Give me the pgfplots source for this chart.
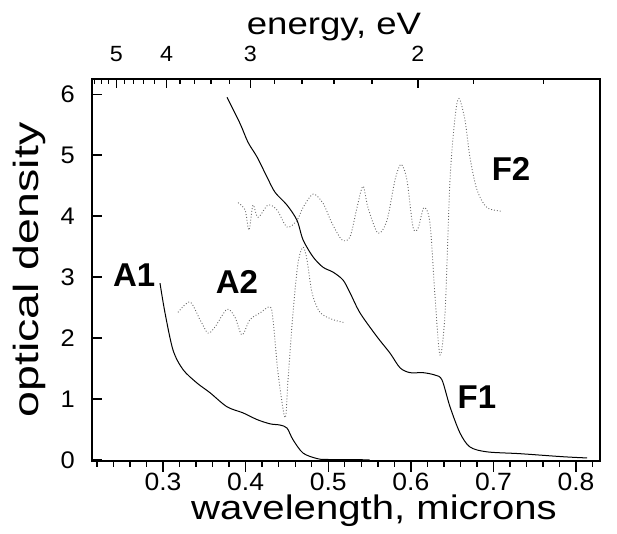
\documentclass[border=0pt]{standalone}
\usepackage{pgfplots}
\pgfplotsset{compat=1.18}
\usepackage{fontspec}
\setmainfont{Liberation Sans}
\newfontfamily\labfont[FakeStretch=1.18]{Liberation Sans}
\newfontfamily\ylabfont[FakeStretch=1.33]{Liberation Sans}
\newfontfamily\tickfont[FakeStretch=1.06]{Liberation Sans}
\usetikzlibrary{calc}

\pgfplotsset{base/.style={scale only axis, width=508pt, height=382pt,
  xmin=0.214, xmax=0.829, ymin=-0.02, ymax=6.25,
  /pgf/number format/assume math mode=true,
  every tick/.style={black, line width=1.4pt}}}

\begin{document}
\begin{tikzpicture}
% bottom ticks (outside)
\begin{axis}[base, name=ax, axis x line*=bottom, axis y line=none,
  x axis line style={draw=none},
  tick align=outside, major tick length=11pt, minor tick length=6pt,
  xtick={0.3,0.4,0.5,0.6,0.7,0.8}, xticklabels={0.3,0.4,0.5,0.6,0.7,0.8},
  minor xtick={0.22,0.24,0.26,0.28,0.32,0.34,0.36,0.38,0.42,0.44,0.46,0.48,0.52,0.54,0.56,0.58,0.62,0.64,0.66,0.68,0.72,0.74,0.76,0.78,0.82},
  xticklabel style={font=\tickfont\fontsize{25}{25}\selectfont, anchor=north, inner sep=0pt, yshift=-1pt}]
\end{axis}
% top energy ticks (inside)
\begin{axis}[base, axis x line*=top, axis y line=none,
  x axis line style={draw=none},
  tick align=inside, major tick length=9pt, minor tick length=5pt,
  xtick={0.2434,0.30425,0.40567,0.6085}, xticklabels={5,4,3,2},
  minor xtick={0.2173,0.2254,0.2340,0.2535,0.2646,0.2766,0.2898,0.3203,0.3381,0.3579,0.3803,0.4346,0.4681,0.5071,0.5532,0.6761,0.7606},
  xticklabel style={font=\tickfont\fontsize{22}{22}\selectfont, anchor=south, inner sep=0pt, yshift=17pt}]
\end{axis}
% main axis: box, y ticks inside, data
\begin{axis}[base, axis line style={line width=1.5pt},
  xtick=\empty, ytick={0,1,2,3,4,5,6}, ytick pos=left,
  tick align=inside, major tick length=10pt,
  yticklabel style={font=\tickfont\fontsize{24}{24}\selectfont, anchor=east, inner sep=0pt, xshift=-17pt}]
% A1 solid
\addplot[black, line width=1pt, smooth] coordinates {
(0.2963,2.90) (0.3024,2.41) (0.3121,1.80) (0.3242,1.48) (0.3411,1.26) (0.3569,1.10)
(0.3774,0.87) (0.3968,0.77) (0.4138,0.66) (0.4295,0.59) (0.4416,0.57) (0.4501,0.52)
(0.4573,0.33) (0.4695,0.11) (0.4864,0.02) (0.4985,0.005) (0.55,0.0)};
% F1 solid
\addplot[black, line width=1pt, smooth] coordinates {
(0.3774,5.95) (0.3932,5.52) (0.4029,5.21) (0.4138,4.97) (0.4259,4.64) (0.4356,4.39)
(0.4501,4.18) (0.4622,3.93) (0.4695,3.61) (0.4816,3.33) (0.4937,3.16) (0.5058,3.08)
(0.5179,2.95) (0.5264,2.74) (0.5385,2.41) (0.5590,2.02) (0.5748,1.75) (0.5869,1.51)
(0.5990,1.43) (0.6147,1.43) (0.6293,1.39) (0.6377,1.31) (0.6474,0.87) (0.6595,0.44)
(0.6716,0.21) (0.6922,0.13) (0.7322,0.10) (0.7842,0.05) (0.8133,0.03)};
% A2 dotted
\addplot[gray!80!black, line width=0.9pt, dotted, smooth] coordinates {
(0.3181,2.42) (0.3326,2.59) (0.3447,2.30) (0.3544,2.08) (0.3629,2.18) (0.3774,2.47)
(0.3871,2.34) (0.3956,2.05) (0.4052,2.30) (0.4174,2.41) (0.4295,2.51) (0.4331,2.30)
(0.4392,1.43) (0.4477,0.69) (0.4513,1.31) (0.4573,2.41) (0.4634,3.23) (0.4695,3.49)
(0.4743,3.28) (0.4804,2.74) (0.4900,2.42) (0.5058,2.30) (0.5203,2.25)};
% F2 dotted
\addplot[gray!80!black, line width=0.9pt, dotted, smooth] coordinates {
(0.3908,4.22) (0.3993,4.10) (0.4041,3.77) (0.4089,4.18) (0.4150,3.98) (0.4271,4.18)
(0.4380,4.10) (0.4501,3.82) (0.4622,3.93) (0.4695,4.14) (0.4816,4.36) (0.4937,4.21)
(0.5046,3.88) (0.5167,3.61) (0.5264,3.66) (0.5348,4.14) (0.5421,4.49) (0.5481,4.14)
(0.5602,3.72) (0.5711,3.93) (0.5808,4.59) (0.5881,4.85) (0.5953,4.59) (0.6026,3.82)
(0.6087,3.80) (0.6159,4.14) (0.6232,3.88) (0.6293,2.67) (0.6353,1.72) (0.6414,2.41)
(0.6474,4.59) (0.6535,5.62) (0.6583,5.93) (0.6656,5.57) (0.6716,4.96) (0.6801,4.43)
(0.6922,4.14) (0.7104,4.08)};
\node[font=\bfseries\fontsize{33}{33}\selectfont] at (axis cs:0.265,3.03) {A1};
\node[font=\bfseries\fontsize{33}{33}\selectfont] at (axis cs:0.3895,2.92) {A2};
\node[font=\bfseries\fontsize{33}{33}\selectfont] at (axis cs:0.680,1.02) {F1};
\node[font=\bfseries\fontsize{33}{33}\selectfont] at (axis cs:0.7213,4.77) {F2};
\end{axis}
\node[font=\labfont\fontsize{34}{34}\selectfont, anchor=base] at ($(ax.south west)+(282pt,-58pt)$) {wavelength, microns};
\node[font=\ylabfont\fontsize{35}{35}\selectfont, rotate=90, anchor=center] at ($(ax.south west)+(-63pt,191pt)$) {optical density};
\node[font=\labfont\fontsize{31}{31}\selectfont, anchor=base] at ($(ax.south west)+(242pt,426pt)$) {energy, eV};
\pgfresetboundingbox
\path[use as bounding box] ($(ax.south west)+(-92pt,-73pt)$) rectangle ($(ax.south west)+(525pt,461pt)$);
\end{tikzpicture}
\end{document}
